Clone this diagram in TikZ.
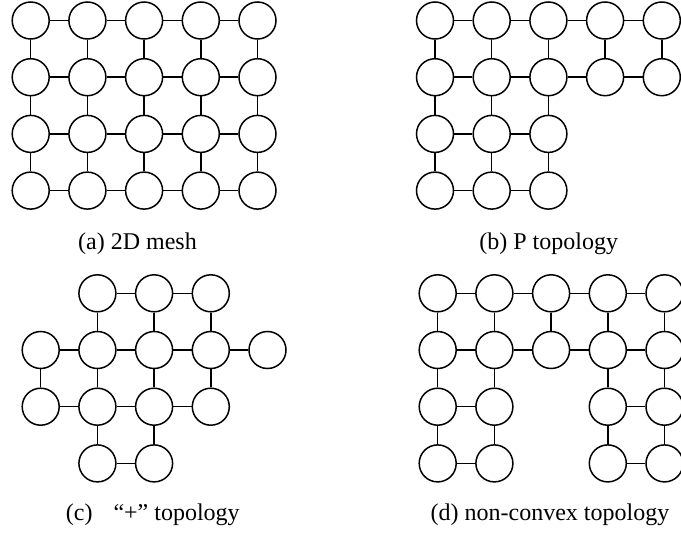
\documentclass[tikz,border=0pt]{standalone}
\usepackage{fontspec}
\setmainfont{Liberation Serif}
\begin{document}
\begin{tikzpicture}[x=1pt,y=-1pt,
  pe/.style={circle,draw,line width=1.5pt,minimum size=37pt,inner sep=0pt},
  link/.style={line width=1.5pt},
  captext/.style={font=\fontsize{24}{28}\selectfont,anchor=base,inner sep=0pt}]
\useasboundingbox (0,0) rectangle (681,533);
\def\st{56.7}
% ---------- (a) 2D mesh ----------
\foreach \r in {1,...,4}
  \foreach \c in {1,...,5}
    \node[pe] (a\r\c) at ({30.7+\st*(\c-1)},{20.5+\st*(\r-1)}) {};
\foreach \r in {1,...,4}
  \foreach \c/\d in {1/2,2/3,3/4,4/5}
    \draw[link] (a\r\c) -- (a\r\d);
\foreach \r/\s in {1/2,2/3,3/4}
  \foreach \c in {1,...,5}
    \draw[link] (a\r\c) -- (a\s\c);
\node[captext] (capa) at (137.5,249) {(a) 2D mesh};
% ---------- (b) P topology ----------
\foreach \r/\c in {1/1,1/2,1/3,1/4,1/5,2/1,2/2,2/3,2/4,2/5,3/1,3/2,3/3,4/1,4/2,4/3}
  \node[pe] (b\r\c) at ({435+\st*(\c-1)},{20.5+\st*(\r-1)}) {};
\foreach \p/\q in {11/12,12/13,13/14,14/15,21/22,22/23,23/24,24/25,31/32,32/33,41/42,42/43,
                   11/21,12/22,13/23,14/24,15/25,21/31,22/32,23/33,31/41,32/42,33/43}
  \draw[link] (b\p) -- (b\q);
\node[captext] (capb) at (548.7,249) {(b) P topology};
% ---------- (c) "+" topology ----------
\foreach \r/\c in {1/2,1/3,1/4,2/1,2/2,2/3,2/4,2/5,3/1,3/2,3/3,3/4,4/2,4/3}
  \node[pe] (c\r\c) at ({40.7+\st*(\c-1)},{293.3+\st*(\r-1)}) {};
\foreach \p/\q in {12/13,13/14,21/22,22/23,23/24,24/25,31/32,32/33,33/34,42/43,
                   12/22,13/23,14/24,21/31,22/32,23/33,24/34,32/42,33/43}
  \draw[link] (c\p) -- (c\q);
\node[captext] (capc) at (152.8,520) {(c)\hspace{15pt} “+” topology};
% ---------- (d) non-convex topology ----------
\foreach \r/\c in {1/1,1/2,1/3,1/4,1/5,2/1,2/2,2/3,2/4,2/5,3/1,3/2,3/4,3/5,4/1,4/2,4/4,4/5}
  \node[pe] (d\r\c) at ({437.7+\st*(\c-1)},{293.3+\st*(\r-1)}) {};
\foreach \p/\q in {11/12,12/13,13/14,14/15,21/22,22/23,23/24,24/25,31/32,34/35,41/42,44/45,
                   11/21,12/22,13/23,14/24,15/25,21/31,22/32,24/34,25/35,31/41,32/42,34/44,35/45}
  \draw[link] (d\p) -- (d\q);
\node[captext] (capd) at (550,520) {(d) non-convex topology};
\end{tikzpicture}
\end{document}
